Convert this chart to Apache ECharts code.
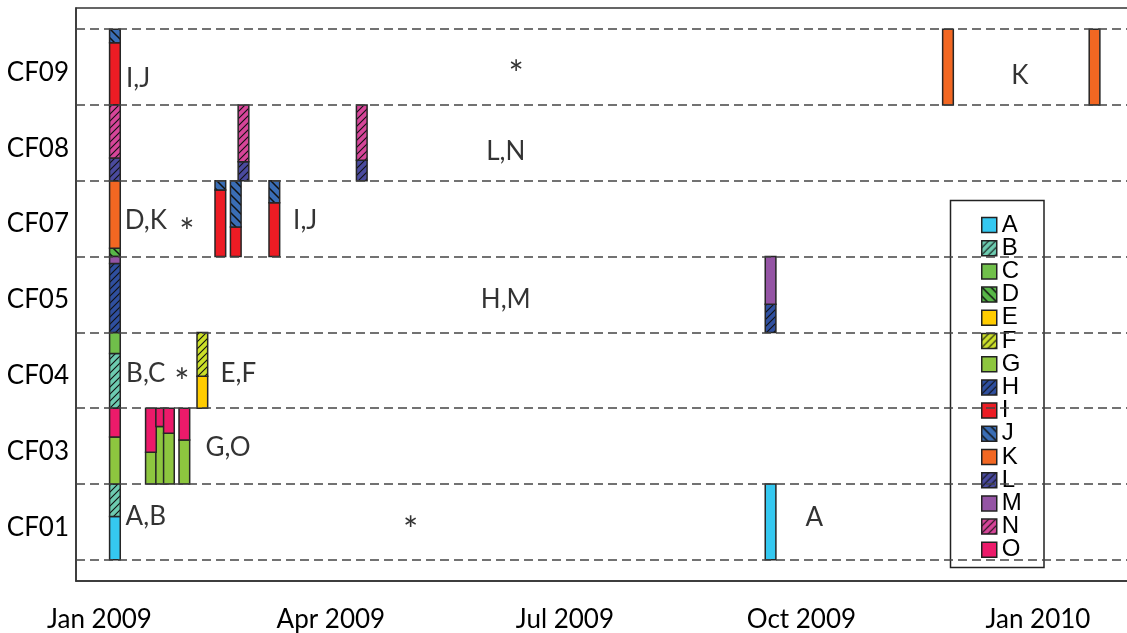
<!DOCTYPE html>
<html>
<head>
<meta charset="utf-8">
<script src="https://cdn.jsdelivr.net/npm/echarts@6/dist/echarts.min.js"></script>
<style>
  html, body { margin: 0; padding: 0; background: #fff; }
  #main { width: 1127px; height: 633px; }
</style>
</head>
<body>
<div id="main"></div>
<script>
  // patients, bottom to top
  var rows = ['CF01', 'CF03', 'CF04', 'CF05', 'CF07', 'CF08', 'CF09'];
  var strains = ['A', 'B', 'C', 'D', 'E', 'F', 'G', 'H', 'I', 'J', 'K', 'L', 'M', 'N', 'O'];
  var strainColors = ['#35c8f0', '#6dcbb0', '#70bf4a', '#58b848', '#ffcc00', '#cce02a', '#8dc63f', '#2f4f9f',
    '#ed1c24', '#3a6db5', '#f26722', '#4a4a9e', '#9454a4', '#d64599', '#ec1a6a'];
  var strainHatch = ['', '/', '', '\\', '', '/', '', '/', '', '\\', '', '/', '', '/', ''];

  // one sample = one bar; mix is listed bottom to top as [strain, share]
  var sampleDate = ['2009-01-07', '2009-11-27', '2010-01-23',
    '2009-01-07', '2009-02-26', '2009-04-13',
    '2009-01-07', '2009-02-17', '2009-02-23', '2009-03-10',
    '2009-01-07', '2009-09-19',
    '2009-01-07', '2009-02-10',
    '2009-01-07', '2009-01-21', '2009-01-25', '2009-01-28', '2009-02-03',
    '2009-01-07', '2009-09-19'];
  var sampleRow = ['CF09', 'CF09', 'CF09',
    'CF08', 'CF08', 'CF08',
    'CF07', 'CF07', 'CF07', 'CF07',
    'CF05', 'CF05',
    'CF04', 'CF04',
    'CF03', 'CF03', 'CF03', 'CF03', 'CF03',
    'CF01', 'CF01'];
  var sampleMix = [
    [['I', 0.82], ['J', 0.18]], [['K', 1]], [['K', 1]],
    [['L', 0.30], ['N', 0.70]], [['L', 0.25], ['N', 0.75]], [['L', 0.27], ['N', 0.73]],
    [['D', 0.11], ['K', 0.89]], [['I', 0.88], ['J', 0.12]], [['I', 0.39], ['J', 0.61]], [['I', 0.71], ['J', 0.29]],
    [['H', 0.91], ['M', 0.09]], [['H', 0.37], ['M', 0.63]],
    [['B', 0.72], ['C', 0.28]], [['E', 0.42], ['F', 0.58]],
    [['G', 0.62], ['O', 0.38]], [['G', 0.42], ['O', 0.58]], [['G', 0.76], ['O', 0.24]], [['G', 0.67], ['O', 0.33]], [['G', 0.58], ['O', 0.42]],
    [['A', 0.57], ['B', 0.43]], [['A', 1]]
  ];

  // text written inside the rows
  var noteText = ['I,J', '*', 'K', 'L,N', 'D,K', '*', 'I,J', 'H,M', 'B,C', '*', 'E,F', 'G,O', 'A,B', '*', 'A'];
  var noteDate = ['2009-01-16', '2009-06-12', '2009-12-25', '2009-06-08', '2009-01-19', '2009-02-04', '2009-03-22',
    '2009-06-08', '2009-01-19', '2009-02-02', '2009-02-24', '2009-02-20', '2009-01-19', '2009-05-02', '2009-10-06'];
  var noteY = [6.35, 6.39, 6.39, 5.38, 4.47, 4.31, 4.47, 3.43, 2.46, 2.33, 2.46, 1.48, 0.57, 0.37, 0.56];

  var tickDates = ['2009-01-01', '2009-04-01', '2009-07-01', '2009-10-01', '2010-01-01'];
  var months = ['Jan', 'Feb', 'Mar', 'Apr', 'May', 'Jun', 'Jul', 'Aug', 'Sep', 'Oct', 'Nov', 'Dec'];

  var DAY = 86400000;
  var barDays = 4.15;

  function toTime(d) { return echarts.time.parse(d).getTime(); }

  function hatchFill(color, dir) {
    if (!dir) return color;
    var size = dir === '\\' ? 9 : 7;
    var c = document.createElement('canvas');
    c.width = size; c.height = size;
    var g = c.getContext('2d');
    g.fillStyle = color;
    g.fillRect(0, 0, size, size);
    g.strokeStyle = '#111';
    g.lineWidth = dir === '\\' ? 1.5 : 1.1;
    g.beginPath();
    if (dir === '/') {
      g.moveTo(-1, size + 1); g.lineTo(size + 1, -1);
      g.moveTo(-1, 1); g.lineTo(1, -1);
      g.moveTo(size - 1, size + 1); g.lineTo(size + 1, size - 1);
    } else {
      g.moveTo(-1, -1); g.lineTo(size + 1, size + 1);
      g.moveTo(size - 1, -1); g.lineTo(size + 1, 1);
      g.moveTo(-1, size - 1); g.lineTo(1, size + 1);
    }
    g.stroke();
    return { image: c, repeat: 'repeat' };
  }

  var fills = strains.map(function (s, i) { return hatchFill(strainColors[i], strainHatch[i]); });

  function renderBar(params, api) {
    var lo = api.coord([api.value(0), api.value(1)]);
    var hi = api.coord([api.value(0), api.value(2)]);
    var w = api.size([barDays * DAY, 0])[0];
    return {
      type: 'rect',
      shape: { x: lo[0] - w / 2, y: hi[1], width: w, height: lo[1] - hi[1] },
      style: { fill: fills[params.seriesIndex], stroke: '#262626', lineWidth: 1.5 }
    };
  }

  var series = strains.map(function (s) {
    var data = [];
    sampleMix.forEach(function (mix, k) {
      var base = rows.indexOf(sampleRow[k]);
      var acc = 0;
      mix.forEach(function (m) {
        if (m[0] === s) data.push([toTime(sampleDate[k]), base + acc, base + acc + m[1]]);
        acc += m[1];
      });
    });
    return {
      type: 'custom',
      name: s,
      renderItem: renderBar,
      itemStyle: { color: fills[strains.indexOf(s)] },
      encode: { x: 0, y: [1, 2] },
      data: data
    };
  });

  series.push({
    type: 'scatter',
    name: 'notes',
    silent: true,
    symbolSize: 1,
    itemStyle: { color: 'rgba(0,0,0,0)' },
    label: {
      show: true,
      position: 'inside',
      formatter: function (p) { return p.value[2] === '*' ? '{s|*}' : p.value[2]; },
      fontFamily: 'Lato',
      fontSize: 26,
      color: '#000',
      rich: { s: { fontFamily: 'Lato', fontSize: 36, color: '#000' } }
    },
    data: noteText.map(function (t, i) { return [toTime(noteDate[i]), noteY[i], t]; }),
    markLine: {
      silent: true,
      symbol: ['none', 'none'],
      label: { show: false },
      lineStyle: { color: '#444', type: [9, 5], width: 1.6 },
      data: rows.concat(['']).map(function (r, i) { return { yAxis: i }; })
    }
  });

  var myChart = echarts.init(document.getElementById('main'));
  myChart.setOption({
    animation: false,
    grid: {
      left: 76, top: 8, right: -12, bottom: 52,
      show: true, borderColor: '#333', borderWidth: 1.5,
      outerBoundsMode: 'none'
    },
    legend: {
      orient: 'vertical',
      left: 981, top: 213,
      data: strains,
      icon: 'rect',
      itemWidth: 15, itemHeight: 15, itemGap: -0.8,
      padding: 0,
      itemStyle: { borderColor: '#222', borderWidth: 1.5 },
      textStyle: { fontFamily: 'Liberation Sans Narrow, Liberation Sans', fontSize: 24, color: '#000' },
      selectedMode: false,
      z: 5
    },
    graphic: [{
      type: 'rect', z: 3,
      shape: { x: 950.5, y: 200.5, width: 93.5, height: 367 },
      style: { fill: '#fff', stroke: '#222', lineWidth: 1.5 }
    }],
    xAxis: {
      type: 'value',
      min: toTime('2008-12-22 20:40'),
      max: toTime('2010-02-09 07:00'),
      axisLine: { show: true, onZero: false, lineStyle: { color: '#333', width: 1.5 } },
      axisTick: { show: false },
      splitLine: { show: false },
      axisLabel: {
        customValues: tickDates.map(toTime),
        formatter: function (v) { var d = new Date(v); return months[d.getMonth()] + ' ' + d.getFullYear(); },
        fontFamily: 'Lato', fontSize: 26, color: '#000', margin: 26
      }
    },
    yAxis: {
      type: 'value',
      min: -0.28, max: 7.28,
      axisLine: { show: true, onZero: false, lineStyle: { color: '#333', width: 1.5 } },
      axisTick: { show: false },
      splitLine: { show: false },
      axisLabel: {
        customValues: rows.map(function (r, i) { return i + 0.43; }),
        formatter: function (v) { return rows[Math.floor(v)]; },
        fontFamily: 'Lato', fontSize: 26, color: '#000', margin: 7
      }
    },
    series: series
  });
</script>
</body>
</html>
